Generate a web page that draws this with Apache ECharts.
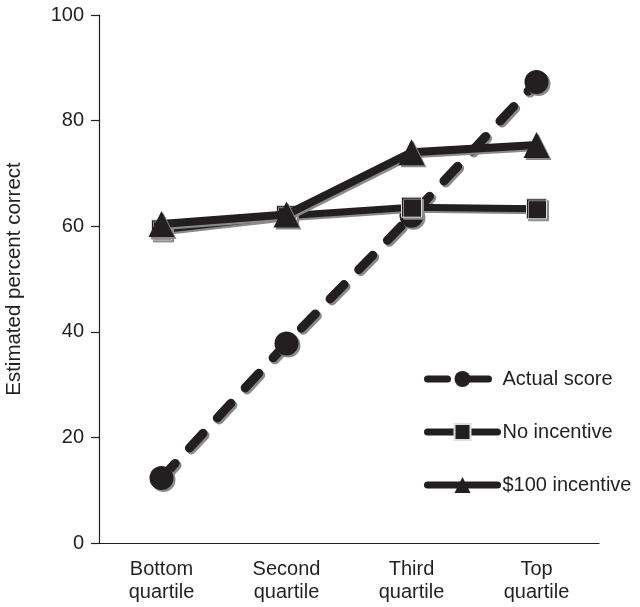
<!DOCTYPE html>
<html><head><meta charset="utf-8">
<script src="https://cdn.jsdelivr.net/npm/echarts@6/dist/echarts.min.js"></script>
<style>html,body{margin:0;padding:0;background:#fff}#c{width:640px;height:607px}</style>
</head><body><div id="c"></div>
<script>
var categories = ['Bottom\nquartile', 'Second\nquartile', 'Third\nquartile', 'Top\nquartile'];
var actualScore = [12.3, 37.8, 62.0, 87.3];
var noIncentive = [59.3, 62.0, 63.6, 63.3];
var incentive100 = [60.4, 62.2, 74.0, 75.4];
var yTicks = [0, 20, 40, 60, 80, 100];

var ink = '#231f20';
var font = 'Liberation Sans, Arial, Helvetica, sans-serif';
var shadow = {shadowColor: '#8a8a8a', shadowBlur: 0, shadowOffsetX: 2, shadowOffsetY: 2};

var chart = echarts.init(document.getElementById('c'), null, {renderer: 'canvas'});
chart.setOption({
  animation: false,
  backgroundColor: '#fff',
  textStyle: {fontFamily: font},
  grid: {left: 99, right: 41, top: 15, bottom: 64, containLabel: false, outerBoundsMode: 'none'},
  xAxis: {
    type: 'category', data: categories, boundaryGap: true,
    axisLine: {lineStyle: {color: ink, width: 1.2}},
    axisTick: {length: 7, lineStyle: {color: ink, width: 1.2}},
    axisLabel: {color: ink, fontSize: 20, lineHeight: 23, margin: 15, fontFamily: font}
  },
  yAxis: {
    type: 'value', min: yTicks[0], max: yTicks[yTicks.length - 1], interval: 20,
    name: 'Estimated percent correct', nameLocation: 'middle', nameGap: 74,
    nameTextStyle: {color: ink, fontSize: 20.5, fontFamily: font},
    splitLine: {show: false},
    axisLine: {show: true, lineStyle: {color: ink, width: 1.2}},
    axisTick: {show: true, length: 8, lineStyle: {color: ink, width: 1.2}},
    axisLabel: {color: ink, fontSize: 20, margin: 15, fontFamily: font}
  },
  legend: {
    orient: 'vertical', left: 419, top: 364, itemGap: 33,
    itemWidth: 70, itemHeight: 20,
    lineStyle: {width: 7, cap: 'round'},
    textStyle: {color: ink, fontSize: 20, fontFamily: font},
    data: ['Actual score', 'No incentive', '$100 incentive']
  },
  series: [
    {
      name: 'Actual score', type: 'line', data: actualScore,
      symbol: 'circle', symbolSize: 24,
      lineStyle: Object.assign({color: ink, width: 9, type: [20, 21], cap: 'round'}, shadow),
      itemStyle: Object.assign({color: ink}, shadow),
      z: 2
    },
    {
      name: 'No incentive', type: 'line', data: noIncentive,
      symbol: 'rect', symbolSize: 20,
      lineStyle: Object.assign({color: ink, width: 7, cap: 'round'}, shadow),
      itemStyle: Object.assign({color: ink, borderColor: '#ddd', borderWidth: 1}, shadow),
      z: 3
    },
    {
      name: '$100 incentive', type: 'line', data: incentive100,
      symbol: 'triangle', symbolSize: [26, 26],
      lineStyle: Object.assign({color: ink, width: 8, cap: 'round'}, shadow),
      itemStyle: Object.assign({color: ink}, shadow),
      z: 4
    }
  ]
});
</script></body></html>
